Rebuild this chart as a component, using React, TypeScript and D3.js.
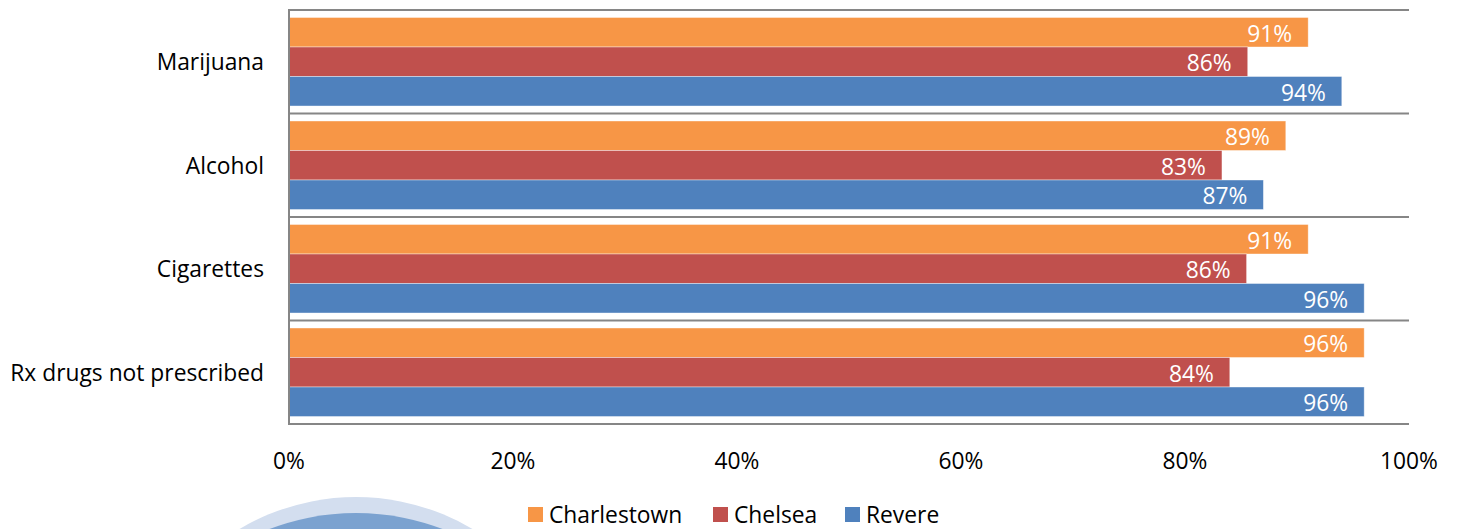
import React from "react";
import * as d3 from "d3";

const categories = ["Marijuana", "Alcohol", "Cigarettes", "Rx drugs not prescribed"];
const seriesNames = ["Charlestown", "Chelsea", "Revere"];
const charlestown = [0.91, 0.89, 0.91, 0.96];
const chelsea = [0.856, 0.833, 0.855, 0.84];
const revere = [0.94, 0.87, 0.96, 0.96];
const colors = ["#F79646", "#C0504D", "#4F81BD"];
const ticks = [0, 0.2, 0.4, 0.6, 0.8, 1.0];

const W = 1458;
const H = 529;
const FONT = "'Open Sans', 'Liberation Sans', sans-serif";
const FS = 22.8;

export default function App() {
  const left = 289;
  const right = 1409;
  const top = 10;
  const bottom = 424;
  const x = d3.scaleLinear().domain([0, 1]).range([left, right]);
  const y = d3.scaleBand<string>().domain(categories).range([top, bottom]).paddingInner(0).paddingOuter(0);
  const inner = d3
    .scaleBand<string>()
    .domain(seriesNames)
    .range([0, y.bandwidth()])
    .paddingInner(0)
    .paddingOuter(0.254);
  const series = [charlestown, chelsea, revere];
  const fmt = d3.format(".0%");
  const boundaries = [...categories.map((c) => y(c)!), bottom];

  const legendItems = [
    { name: seriesNames[0], x: 528 },
    { name: seriesNames[1], x: 713 },
    { name: seriesNames[2], x: 845 },
  ];

  return (
    <svg
      width={W}
      height={H}
      style={{ position: "absolute", left: 0, top: 0, display: "block" }}
      fontFamily={FONT}
    >
      <rect x={0} y={0} width={W} height={H} fill="#ffffff" />
      {/* decorative circles */}
      <circle cx={356} cy={725} r={228} fill="#D3DEEF" />
      <circle cx={356} cy={755} r={242} fill="#7BA2D0" />

      {/* bars */}
      {categories.map((c, ci) => (
        <g key={c}>
          {series.map((vals, si) => {
            const by = y(c)! + inner(seriesNames[si])!;
            const bw = x(vals[ci]) - x(0);
            return (
              <g key={si}>
                <rect
                  x={x(0)}
                  y={by}
                  width={bw}
                  height={inner.bandwidth()}
                  fill={colors[si]}
                  stroke="rgba(255,255,255,0.5)"
                  strokeWidth={0.8}
                />
                <text
                  x={x(vals[ci]) - 16}
                  y={by + inner.bandwidth() / 2 + 1}
                  textAnchor="end"
                  dominantBaseline="central"
                  fill="#ffffff"
                  fontSize={FS}
                >
                  {fmt(Math.round(vals[ci] * 100) / 100)}
                </text>
              </g>
            );
          })}
          <text
            x={264}
            y={y(c)! + y.bandwidth() / 2}
            textAnchor="end"
            dominantBaseline="central"
            fill="#000000"
            fontSize={FS}
          >
            {c}
          </text>
        </g>
      ))}

      {/* horizontal separators */}
      {boundaries.map((b, i) => (
        <line key={i} x1={left} x2={right} y1={b} y2={b} stroke="#868686" strokeWidth={2} />
      ))}
      {/* left axis */}
      <line x1={left} x2={left} y1={top - 1} y2={bottom + 1} stroke="#868686" strokeWidth={2} />

      {/* x tick labels */}
      {ticks.map((t) => (
        <text
          key={t}
          x={x(t)}
          y={460}
          textAnchor="middle"
          dominantBaseline="central"
          fill="#000000"
          fontSize={FS}
        >
          {fmt(t)}
        </text>
      ))}

      {/* legend */}
      {legendItems.map((it, i) => (
        <g key={it.name}>
          <rect x={it.x} y={507} width={15} height={15} fill={colors[i]} />
          <text x={it.x + 21} y={514.5} dominantBaseline="central" fill="#000000" fontSize={FS}>
            {it.name}
          </text>
        </g>
      ))}
    </svg>
  );
}
